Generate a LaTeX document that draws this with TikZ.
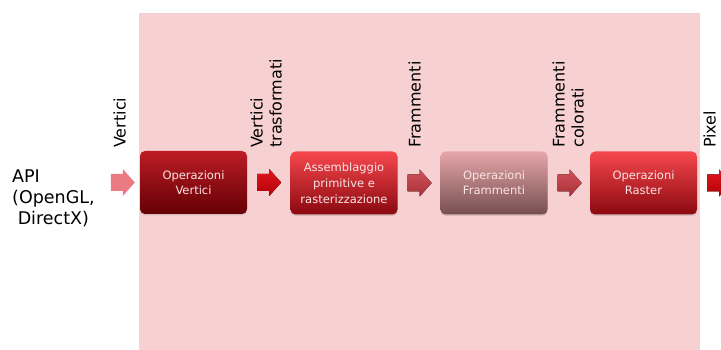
\documentclass[tikz,border=0pt]{standalone}
\usepackage{fontspec}
\setmainfont{DejaVu Sans}
\usetikzlibrary{shadows}

\definecolor{bgpink}{RGB}{247,208,210}
\definecolor{boxtext}{RGB}{250,228,228}
% stage fills (top / bottom)
\definecolor{darkTop}{RGB}{188,28,36}
\definecolor{darkBot}{RGB}{100,0,5}
\definecolor{brightTop}{RGB}{246,72,78}
\definecolor{brightBot}{RGB}{138,8,14}
\definecolor{mutedTop}{RGB}{230,166,170}
\definecolor{mutedBot}{RGB}{118,78,78}
% arrow fills
\definecolor{arrPink}{RGB}{236,122,130}
\definecolor{arrRedTop}{RGB}{226,24,30}
\definecolor{arrRedBot}{RGB}{176,0,6}
\definecolor{arrMutedTop}{RGB}{208,82,90}
\definecolor{arrMutedBot}{RGB}{168,48,56}

\tikzset{
  stage/.style={rounded corners=5pt, minimum width=107pt, minimum height=63pt,
    inner sep=0pt, align=center, text=boxtext,
    font=\fontsize{11.5}{15}\selectfont,
    drop shadow={opacity=0.25, shadow xshift=0pt, shadow yshift=-1.5pt}},
  flowlabel/.style={rotate=90, anchor=south west, inner sep=0pt, align=left,
    font=\fontsize{16}{19}\selectfont},
  blockarrow/.pic={
    \fill[pic actions] (0,-8.5) -- (12,-8.5) -- (12,-13.5) -- (24,0)
      -- (12,13.5) -- (12,8.5) -- (0,8.5) -- cycle;
  }
}

\begin{document}
\begin{tikzpicture}[x=1pt,y=-1pt]
\useasboundingbox (0,0) rectangle (721,350);

% pipeline region
\fill[bgpink] (139,13) rectangle (700,350);

% input API
\node[anchor=north west, inner sep=0pt, align=left,
      font=\fontsize{17.5}{21}\selectfont] (api) at (12,170)
  {API\\(OpenGL,\\~DirectX)};

% pipeline stages
\node[stage, top color=darkTop, bottom color=darkBot] (b1) at (193.5,182.5)
  {Operazioni\\Vertici};
\node[stage, top color=brightTop, bottom color=brightBot, font=\fontsize{11.5}{16}\selectfont]
  (b2) at (344,183) {Assemblaggio\\primitive e\\rasterizzazione};
\node[stage, top color=mutedTop, bottom color=mutedBot] (b3) at (494,183)
  {Operazioni\\Frammenti};
\node[stage, top color=brightTop, bottom color=brightBot] (b4) at (643.5,183)
  {Operazioni\\Raster};

% block arrows between stages
\path (b1.west) ++(-29,0) coordinate (a0)
      (b1.east) ++(10,0) coordinate (a1)
      (b2.east) ++(10,0) coordinate (a2)
      (b3.east) ++(10,0) coordinate (a3)
      (b4.east) ++(10,0) coordinate (a4);
\pic[fill=arrPink] at (a0) {blockarrow};
\pic[top color=arrRedTop, bottom color=arrRedBot] at (a1) {blockarrow};
\pic[top color=arrMutedTop, bottom color=arrMutedBot] at (a2) {blockarrow};
\pic[top color=arrMutedTop, bottom color=arrMutedBot] at (a3) {blockarrow};
\pic[top color=arrRedTop, bottom color=arrRedBot] at (a4) {blockarrow};

% data labels
\node[flowlabel] (lv)  at (126,148) {Vertici};
\node[flowlabel] (lvt) at (282,148) {Vertici\\trasformati};
\node[flowlabel] (lf)  at (421,148) {Frammenti};
\node[flowlabel] (lfc) at (584,148) {Frammenti\\colorati};
\node[flowlabel] (lp)  at (716,148) {Pixel};
\end{tikzpicture}
\end{document}
